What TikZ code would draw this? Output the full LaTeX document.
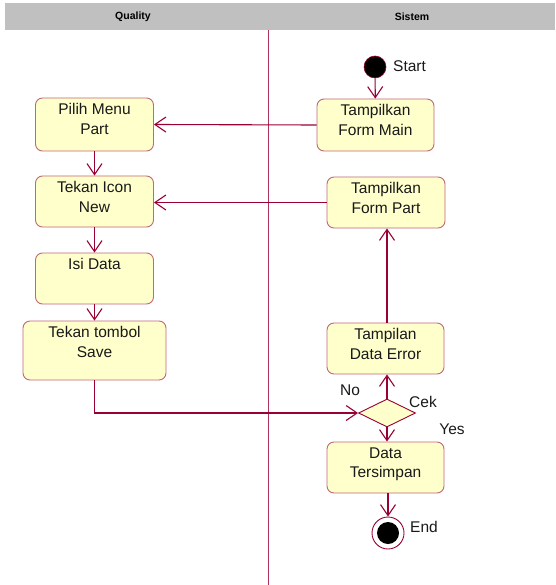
\documentclass[tikz,border=0pt]{standalone}
\usepackage{fontspec}
\setmainfont{Liberation Sans}
\usetikzlibrary{arrows.meta,shapes.geometric}
\definecolor{arr}{HTML}{990033}
\definecolor{bord}{HTML}{C06878}
\definecolor{boxfill}{HTML}{FFFFCC}
\definecolor{hdr}{HTML}{C0C0C0}
\begin{document}
\begin{tikzpicture}[x=1pt,y=-1pt,
  actbox/.style={draw=bord, fill=boxfill, rounded corners=7pt, line width=0.9pt, inner sep=0pt},
  txt/.style={font=\fontsize{15.5}{19.5}\selectfont, align=center, anchor=north, inner sep=0pt, text=black!90},
  lbl/.style={font=\fontsize{15.5}{19.5}\selectfont, inner sep=0pt, text=black!90},
  flow/.style={draw=arr, line width=1.1pt, -{Straight Barb[length=11pt,width=15pt,line width=1.1pt]}},
  hdrtxt/.style={font=\bfseries\fontsize{10.5}{12}\selectfont, inner sep=0pt}]
\useasboundingbox (0,0) rectangle (555,585);
% header
\fill[hdr] (5,3) rectangle (555,30);
\node[hdrtxt] (hq) at (133,17) {Quality};
\node[hdrtxt] (hs) at (412,17) {Sistem};
\draw[color=arr!80, line width=1pt] (268,30) -- (268,585);
% left lane
\node[actbox, minimum width=118pt, minimum height=53pt] (pm) at (94.5,124.5) {};
\node[txt] (pmt) at ([yshift=-6pt]pm.north) {Pilih Menu\\Part};
\node[actbox, minimum width=118pt, minimum height=51pt] (ti) at (94.5,201.5) {};
\node[txt] (tit) at ([yshift=-6pt]ti.north) {Tekan Icon\\New};
\node[actbox, minimum width=118pt, minimum height=51pt] (id) at (94.5,278.5) {};
\node[txt] (idt) at ([yshift=-6pt]id.north) {Isi Data};
\node[actbox, minimum width=143pt, minimum height=59pt] (sv) at (94.5,350.5) {};
\node[txt] (svt) at ([yshift=-6pt]sv.north) {Tekan tombol\\Save};
% right lane
\node[circle, fill=black, draw=arr, line width=0.6pt, minimum size=22pt, inner sep=0pt] (st) at (375,67) {};
\node[lbl, anchor=west] (stl) at (393,66) {Start};
\node[actbox, minimum width=117pt, minimum height=52pt] (fm) at (375.5,125) {};
\node[txt] (fmt) at ([yshift=-6pt]fm.north) {Tampilkan\\Form Main};
\node[actbox, minimum width=118pt, minimum height=51pt] (fp) at (386,202.5) {};
\node[txt] (fpt) at ([yshift=-6pt]fp.north) {Tampilkan\\Form Part};
\node[actbox, minimum width=117pt, minimum height=51pt] (de) at (385.5,348.5) {};
\node[txt] (det) at ([yshift=-6pt]de.north) {Tampilan\\Data Error};
\node[diamond, draw=arr, fill=boxfill, line width=0.9pt, minimum width=57pt, minimum height=28pt, inner sep=0pt] (ck) at (387,413) {};
\node[lbl] (cekl) at (423,402) {Cek};
\node[lbl] (nol) at (350,390) {No};
\node[lbl] (yesl) at (452,429) {Yes};
\node[actbox, minimum width=117pt, minimum height=51pt] (dt) at (385.5,467.5) {};
\node[txt] (dtt) at ([yshift=-6pt]dt.north) {Data\\Tersimpan};
\node[circle, draw=arr, fill=white, line width=0.9pt, minimum size=32pt, inner sep=0pt] (en) at (388,533) {};
\node[circle, fill=black, minimum size=22pt, inner sep=0pt] (enc) at (en.center) {};
\node[lbl, anchor=west] (enl) at (410,527) {End};
% flows
\draw[flow] (st) -- (fm);
\draw[flow] (fm.west) -- (pm.east);
\draw[flow] (pm) -- (ti);
\draw[flow] (fp.west) -- (fp.west -| ti.east);
\draw[flow] (ti) -- (id);
\draw[flow] (id) -- (sv);
\draw[flow] (sv.south) |- (ck.west);
\draw[flow] (ck.north) -- (ck.north |- de.south);
\draw[flow] (de.north -| ck.north) -- (ck.north |- fp.south);
\draw[flow] (ck.south) -- (ck.south |- dt.north);
\draw[flow] (dt.south -| en.north) -- (en.north);
\end{tikzpicture}
\end{document}
